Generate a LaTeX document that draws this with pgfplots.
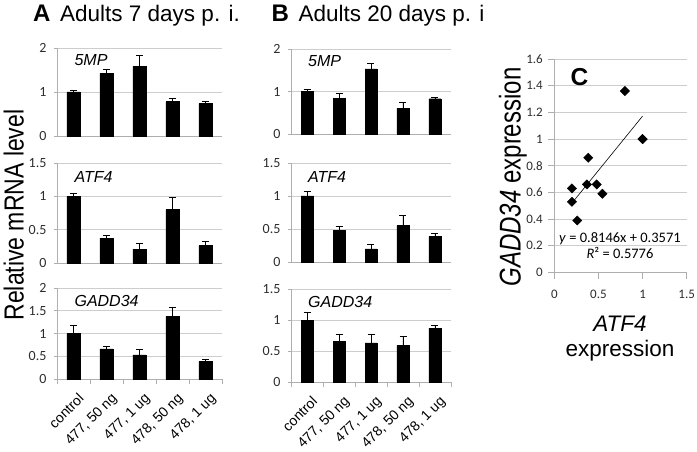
\documentclass[border=0pt]{standalone}
\usepackage{pgfplots}
\pgfplotsset{compat=1.18}
\usepackage{fontspec}
\setmainfont{Liberation Sans}
\newfontfamily\calibri{Carlito}
\usepackage{graphicx}
\definecolor{axgray}{RGB}{175,175,175}
\definecolor{gridgray}{RGB}{205,205,205}
\definecolor{ticktext}{RGB}{45,45,45}
\pgfplotsset{
  exstyle/.style={
    scale only axis, anchor=south west,
    axis x line*=bottom, axis y line*=left,
    axis line style={axgray, line width=0.8pt},
    ymajorgrids, grid style={gridgray, line width=0.7pt},
    tick style={axgray, line width=0.8pt},
    tick align=outside, major tick length=3pt, minor tick length=5pt,
    /pgf/number format/assume math mode=true,
    tick label style={font=\calibri\fontsize{14}{17}\selectfont, text=ticktext},
    yticklabel style={xshift=-4pt},
    ymin=0, clip=false,
  },
  barpanel/.style={
    exstyle,
    xmin=0.5, xmax=5.5,
    xtick=\empty,
    ybar, bar width=#1,
  },
  bottomrow/.style={
    xtick={1,2,3,4,5},
    xticklabels={control, {477, 50 ng}, {477, 1 ug}, {478, 50 ng}, {478, 1 ug}},
    minor xtick={0.5,1.5,2.5,3.5,4.5,5.5},
    major x tick style={draw=none},
    xticklabel style={xshift=4pt, yshift=-10pt, rotate=45, anchor=north east, inner sep=0pt, font=\normalfont\fontsize{14}{16}\selectfont, text=black},
  },
  barplt/.style={fill=black, draw=black,
    error bars/.cd, y dir=plus, y explicit,
    error bar style={black, line width=0.9pt},
    error mark options={black, rotate=90, mark size=3.5pt, line width=0.9pt}},
}
\newcommand{\gene}[1]{\node[anchor=west, font=\itshape\fontsize{16}{18}\selectfont] at (rel axis cs:0.085,0.86) {#1};}
\begin{document}
\begin{tikzpicture}
\useasboundingbox (0pt,0pt) rectangle (697pt,-452pt);
% titles
\node[anchor=base west, font=\bfseries\fontsize{24}{28}\selectfont, inner sep=0pt] at (33pt,-22pt) {A};
\node[anchor=base west, font=\fontsize{22.5}{27}\selectfont, inner sep=0pt] at (60pt,-22pt) {Adults 7 days p. i.};
\node[anchor=base west, font=\bfseries\fontsize{24}{28}\selectfont, inner sep=0pt] at (271.5pt,-22pt) {B};
\node[anchor=base west, font=\fontsize{22.5}{27}\selectfont, inner sep=0pt] at (298.3pt,-22pt) {Adults 20 days p. i};
\node[rotate=90, anchor=base, inner sep=0pt] at (23.5pt,-215pt) {\scalebox{1}[1.2]{\fontsize{23}{27}\selectfont Relative mRNA level}};

% ---------- Panel A ----------
\begin{axis}[barpanel=13pt, at={(57pt,-136pt)}, width=165pt, height=88pt, ymax=2, ytick={0,1,2}]
\addplot[barplt] table[x=x, y=y, y error=e] {
x y e
1 1.00 0.04
2 1.43 0.09
3 1.585 0.245
4 0.78 0.07
5 0.74 0.05
};
\gene{5MP}
\end{axis}
\begin{axis}[barpanel=13pt, at={(57pt,-263pt)}, width=165pt, height=100pt, ymax=1.5, ytick={0,0.5,1,1.5}]
\addplot[barplt] table[x=x, y=y, y error=e] {
x y e
1 1.00 0.05
2 0.373 0.045
3 0.21 0.08
4 0.805 0.175
5 0.26 0.06
};
\gene{ATF4}
\end{axis}
\begin{axis}[barpanel=13pt, bottomrow, at={(57pt,-379pt)}, width=165pt, height=91pt, ymax=2, ytick={0,0.5,1,1.5,2}]
\addplot[barplt] table[x=x, y=y, y error=e] {
x y e
1 1.00 0.18
2 0.66 0.06
3 0.53 0.12
4 1.375 0.195
5 0.39 0.05
};
\gene{GADD34}
\end{axis}

% ---------- Panel B ----------
\begin{axis}[barpanel=12pt, at={(291pt,-134pt)}, width=160pt, height=85pt, ymax=2, ytick={0,1,2}]
\addplot[barplt] table[x=x, y=y, y error=e] {
x y e
1 1.00 0.05
2 0.84 0.12
3 1.53 0.13
4 0.60 0.14
5 0.83 0.02
};
\gene{5MP}
\end{axis}
\begin{axis}[barpanel=12pt, at={(291pt,-262pt)}, width=160pt, height=99pt, ymax=1.5, ytick={0,0.5,1,1.5}]
\addplot[barplt] table[x=x, y=y, y error=e] {
x y e
1 1.00 0.07
2 0.483 0.057
3 0.20 0.07
4 0.55 0.15
5 0.39 0.04
};
\gene{ATF4}
\end{axis}
\begin{axis}[barpanel=12pt, bottomrow, at={(291pt,-382pt)}, width=160pt, height=93pt, ymax=1.5, ytick={0,0.5,1,1.5}]
\addplot[barplt] table[x=x, y=y, y error=e] {
x y e
1 1.00 0.12
2 0.66 0.10
3 0.63 0.14
4 0.59 0.15
5 0.87 0.045
};
\gene{GADD34}
\end{axis}

% ---------- Panel C ----------
\begin{axis}[exstyle, at={(554.3pt,-272.5pt)}, width=132.4pt, height=213.5pt,
  xmin=0, xmax=1.5, ymax=1.6, major tick length=6pt,
  xtick={0,0.5,1,1.5}, ytick={0,0.2,0.4,0.6,0.8,1,1.2,1.4,1.6},
  tick label style={font=\calibri\fontsize{13}{16}\selectfont},
  yticklabel style={xshift=2pt}, xticklabel style={yshift=-8pt}]
\addplot[only marks, mark=square*, mark options={rotate=45, fill=black, draw=black}, mark size=3.3pt] coordinates {
(1,1) (0.37,0.66) (0.20,0.53) (0.80,1.36) (0.26,0.39)
(1,1) (0.48,0.66) (0.20,0.63) (0.545,0.59) (0.385,0.86)
};
\addplot[black, line width=0.6pt] coordinates {(0.19,0.512) (1.0,1.172)};
\node[font=\calibri\fontsize{14.5}{16}\selectfont] at (axis cs:0.744,0.251) {\textit{y} = 0.8146x + 0.3571};
\node[font=\calibri\fontsize{14.5}{16}\selectfont] at (axis cs:0.744,0.146) {\textit{R}² = 0.5776};
\end{axis}
\node[font=\bfseries\fontsize{24.5}{28}\selectfont] at (579.5pt,-77pt) {C};
\node[rotate=90, anchor=base, inner sep=0pt] at (520.5pt,-177pt) {\scalebox{1}[1.25]{\fontsize{24}{28}\selectfont\textit{GADD34} expression}};
\node[anchor=base, inner sep=0pt, font=\itshape\fontsize{22.5}{27}\selectfont] at (620pt,-331.7pt) {ATF4};
\node[anchor=base, inner sep=0pt, font=\fontsize{22.5}{27}\selectfont] at (620pt,-356.7pt) {expression};
\end{tikzpicture}
\end{document}
